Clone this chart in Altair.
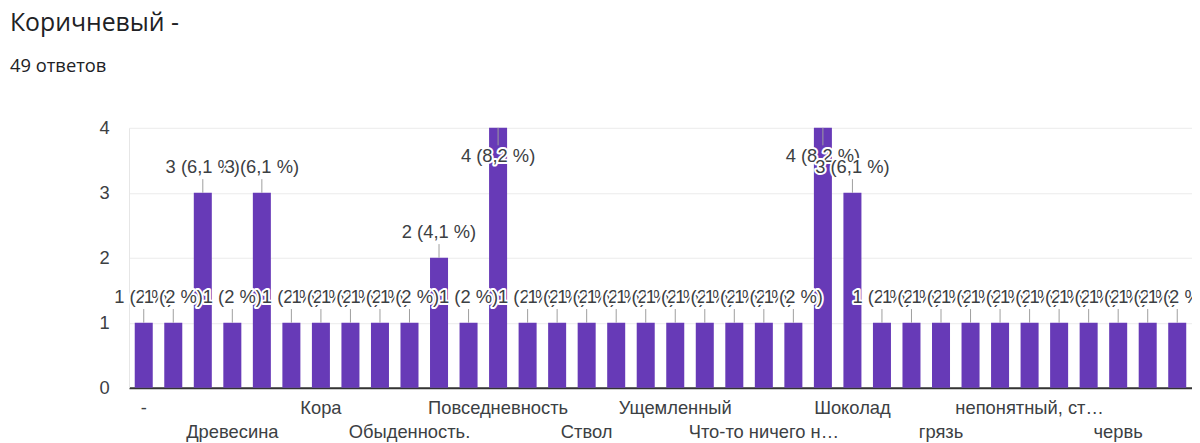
import altair as alt
import pandas as pd
import json

categories = [
    "-", "Волосы", "Дерево", "Древесина", "Земля", "Какао", "Кора", "Корица",
    "Медведь", "Обыденность.", "Осень", "Песок", "Повседневность", "Природа",
    "Скука", "Ствол", "Тепло", "Уголь", "Ущемленный", "Хлеб", "Цвет",
    "Что-то ничего н…", "Чувство", "Шерсть", "Шоколад", "волосы", "глина",
    "грязь", "дерево", "земля", "непонятный, ст…", "осень", "старость",
    "червь", "шерсть", "я",
]
counts = [1, 1, 3, 1, 3, 1, 1, 1, 1, 1, 2, 1, 4, 1, 1, 1, 1, 1, 1, 1, 1,
          1, 1, 4, 3, 1, 1, 1, 1, 1, 1, 1, 1, 1, 1, 1]
total_responses = 49
y_ticks = [0, 0.5, 1, 1.5, 2, 2.5, 3, 3.5, 4]

def fmt_pct(v):
    p = round(v * 100.0 / total_responses, 1)
    s = ("%d" % p) if abs(p - round(p)) < 1e-9 else ("%.1f" % p).replace(".", ",")
    return f"{v} ({s} %)"

df = pd.DataFrame({
    "cat": categories,
    "v": counts,
    "lbl": [fmt_pct(v) for v in counts],
})

row1 = categories[0::6]
row2 = categories[3::6]
label_expr = (
    f"indexof({json.dumps(row1, ensure_ascii=False)}, datum.label) >= 0 ? datum.label : "
    f"(indexof({json.dumps(row2, ensure_ascii=False)}, datum.label) >= 0 ? ['', datum.label] : '')"
)

FONT = "Liberation Sans"
TXT = "#3c4043"
FS = 18.5

x = alt.X(
    "cat:N", sort=categories, title=None,
    scale=alt.Scale(paddingInner=0.39, paddingOuter=0.195, round=False),
    axis=alt.Axis(labelExpr=label_expr, labelAngle=0, labelOverlap=False,
                  labelFontSize=FS, labelFont=FONT, labelColor=TXT,
                  labelLineHeight=24, labelPadding=11, labelLimit=400,
                  ticks=False, domainColor="#333333", domainWidth=2),
)
yscale = alt.Scale(domain=[0, 4], nice=False)

base = alt.Chart(df)

bars = base.mark_bar(color="#673ab7").encode(
    x=x,
    y=alt.Y("v:Q", scale=yscale, title=None,
            axis=alt.Axis(values=y_ticks, format="d",
                          labelExpr="datum.value % 1 == 0 ? datum.label : ''",
                          labelFontSize=FS, labelFont=FONT, labelColor=TXT,
                          labelPadding=20, ticks=False, domain=True,
                          domainColor="#e6e6e6", gridColor="#ebebeb")),
)

leaders = base.transform_calculate(
    y2v="datum.v >= 4 ? datum.v - 0.27 : datum.v + 0.21"
).mark_rule(color="#9e9e9e", strokeWidth=1).encode(
    x=alt.X("cat:N", sort=categories),
    y=alt.Y("v:Q", scale=yscale),
    y2="y2v:Q",
)

labels = base.transform_calculate(
    ly="datum.v >= 4 ? datum.v - 0.43 : datum.v + 0.39",
    layer="[0, 1]",
).transform_flatten(["layer"]).mark_text(
    font=FONT, fontSize=FS, baseline="middle", align="center", strokeWidth=4,
    strokeJoin="round",
).encode(
    x=alt.X("cat:N", sort=categories),
    y=alt.Y("ly:Q", scale=yscale),
    text="lbl:N",
    fill=alt.condition("datum.layer == 0", alt.value("white"), alt.value(TXT)),
    stroke=alt.condition("datum.layer == 0", alt.value("white"), alt.value("transparent")),
)

chart = alt.layer(bars, leaders, labels).properties(
    width=1072,
    height=262,
    title=alt.TitleParams(
        "Коричневый -",
        subtitle="49 ответов",
        anchor="start", frame="group", dx=-120, offset=44,
        font="Open Sans", fontSize=25, fontWeight="normal", color="#202124",
        subtitleFont="Open Sans", subtitleFontSize=18.5, subtitleColor="#202124",
        subtitlePadding=21,
    ),
    autosize=alt.AutoSizeParams(type="none"),
    padding={"left": 122, "top": 119, "right": 0, "bottom": 56},
).configure_view(stroke=None)

chart.save("out.html", embed_options={"renderer": "svg", "actions": False})
